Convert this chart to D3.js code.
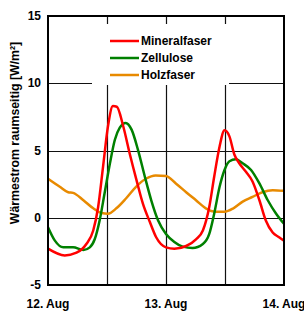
<!DOCTYPE html>
<html lang="de">
    <head>
        <meta charset="utf-8">
        <title>Wärmestrom raumseitig</title>
        <script type="text/javascript" src="https://cdn.jsdelivr.net/npm/d3@7"></script>
        <style type="text/css">
            body { margin: 0; background: #fff; }
            text { font-family: "Liberation Sans", Arial, sans-serif; font-weight: bold; }
        </style>
    </head>

    <body>
        <script type="text/javascript">
            // hours since 12. Aug 00:00
            var hMin = [0, 3.4, 5.8, 7.8, 9.2, 10.2, 11.2, 12.2, 13.2, 14, 15.3, 16.6, 18, 19.3, 20.7, 22, 24,
                        25.7, 28.1, 30.1, 31.5, 32.8, 33.8, 34.9, 35.9, 36.9, 37.9, 38.9, 40.3, 41.6, 43, 44.3, 45.7, 47, 48];
            var mineralfaser = [-2.3, -2.8, -2.6, -1.95, -0.95, 0.8, 3.8, 6.8, 8.3, 8.25, 6.8, 4.8, 2.8, 1.05, -0.3, -1.45, -2.2,
                                -2.3, -2.1, -1.6, -0.95, 0.8, 3.05, 5.3, 6.5, 6.05, 4.7, 4.05, 3.4, 2.7, 1.3, -0.2, -1.1, -1.45, -1.7];

            var hZel = [0, 1.4, 3.1, 5.1, 7.2, 8.5, 9.5, 10.5, 11.5, 12.6, 13.6, 14.6, 15.8, 17, 18.3, 19.7, 21, 22.4, 24,
                        25.7, 27.4, 29.4, 31.5, 32.8, 33.8, 34.9, 35.9, 36.9, 38.2, 39.6, 41.3, 43, 44.7, 46.4, 48];
            var zellulose = [-0.7, -1.7, -2.2, -2.2, -2.4, -2.2, -1.6, -0.2, 1.8, 4.05, 5.8, 6.7, 7.05, 6.55, 5.05, 3.05, 1.3, -0.2, -1.2,
                             -1.8, -2.15, -2.25, -1.95, -1.2, 0.3, 2.3, 3.55, 4.2, 4.35, 4.05, 3.55, 2.55, 1.3, 0.3, -0.45];

            var hHolz = [0, 2.4, 4.1, 5.1, 7.2, 9.2, 10.9, 12.2, 13.9, 15.9, 17.9, 19.9, 21.9, 24,
                         26, 28.1, 30.1, 32.1, 34.1, 35.9, 37.7, 39.6, 41.6, 43.6, 45.7, 48];
            var holzfaser = [2.9, 2.3, 1.9, 1.85, 1.3, 0.7, 0.35, 0.3, 0.7, 1.45, 2.3, 2.9, 3.15, 3.1,
                             2.55, 1.9, 1.3, 0.7, 0.45, 0.45, 0.7, 1.2, 1.55, 1.9, 2.05, 2.0];

            var seriesNames = ["Mineralfaser", "Zellulose", "Holzfaser"];
            var seriesColors = ["#ff0000", "#008000", "#e88a00"];

            var yTicks = [-5, 0, 5, 10, 15];
            var xTickHours = [0, 24, 48];
            var xTickLabels = ["12. Aug", "13. Aug", "14. Aug"];
            var gridHours = [12, 24, 36];

            var w = 304, h = 311;
            var pLeft = 48, pRight = 284, pTop = 16, pBottom = 285;

            var svg = d3.select("body").append("svg")
                        .attr("width", w)
                        .attr("height", h);

            var x = d3.scaleLinear().domain([0, 48]).range([pLeft, pRight]);
            var y = d3.scaleLinear().domain([-5, 15]).range([pBottom, pTop]);

            // grid lines (crisp, dark)
            svg.selectAll(".hgrid")
                .data([0, 5, 10])
                .enter().append("line")
                .attr("x1", pLeft).attr("x2", pRight)
                .attr("y1", function(d) { return Math.round(y(d)) + 0.5; })
                .attr("y2", function(d) { return Math.round(y(d)) + 0.5; })
                .attr("stroke", "#111").attr("stroke-width", 1.2);

            svg.selectAll(".vgrid")
                .data(gridHours)
                .enter().append("line")
                .attr("x1", function(d) { return Math.round(x(d)) + 0.5; })
                .attr("x2", function(d) { return Math.round(x(d)) + 0.5; })
                .attr("y1", pTop).attr("y2", pBottom)
                .attr("stroke", "#111").attr("stroke-width", 1.2);

            // white legend background hides the grid
            svg.append("rect")
                .attr("x", 92).attr("y", 24)
                .attr("width", 137).attr("height", 61)
                .attr("fill", "#fff");

            // curves
            var line = d3.line()
                .x(function(d) { return x(d[0]); })
                .y(function(d) { return y(d[1]); })
                .curve(d3.curveMonotoneX);

            var allSeries = [
                d3.zip(hMin, mineralfaser),
                d3.zip(hZel, zellulose),
                d3.zip(hHolz, holzfaser)
            ];

            // draw holzfaser first, mineralfaser on top
            [2, 1, 0].forEach(function(i) {
                svg.append("path")
                    .datum(allSeries[i])
                    .attr("d", line)
                    .attr("fill", "none")
                    .attr("stroke", seriesColors[i])
                    .attr("stroke-width", 2.5)
                    .attr("stroke-linejoin", "round");
            });

            // frame
            svg.append("rect")
                .attr("x", pLeft).attr("y", pTop)
                .attr("width", pRight - pLeft).attr("height", pBottom - pTop)
                .attr("fill", "none")
                .attr("stroke", "#000").attr("stroke-width", 2);

            // y tick labels
            svg.selectAll(".ylab")
                .data(yTicks)
                .enter().append("text")
                .attr("x", 41)
                .attr("y", function(d) { return y(d) + 4; })
                .attr("text-anchor", "end")
                .attr("font-size", "12px")
                .attr("fill", "#000")
                .text(function(d) { return d; });

            // x tick labels
            svg.selectAll(".xlab")
                .data(xTickHours)
                .enter().append("text")
                .attr("x", function(d) { return x(d); })
                .attr("y", 308)
                .attr("text-anchor", "middle")
                .attr("font-size", "12px")
                .attr("fill", "#000")
                .text(function(d, i) { return xTickLabels[i]; });

            // y axis title
            svg.append("text")
                .attr("transform", "translate(19,133) rotate(-90)")
                .attr("text-anchor", "middle")
                .attr("font-size", "12.3px")
                .attr("fill", "#000")
                .text("Wärmestrom raumseitig [W/m²]");

            // legend
            seriesNames.forEach(function(name, i) {
                var ly = 41 + i * 17;
                svg.append("line")
                    .attr("x1", 110).attr("x2", 139)
                    .attr("y1", ly).attr("y2", ly)
                    .attr("stroke", seriesColors[i])
                    .attr("stroke-width", 2.5);
                svg.append("text")
                    .attr("x", 141)
                    .attr("y", ly + 4)
                    .attr("font-size", "12px")
                    .attr("fill", "#000")
                    .text(name);
            });
        </script>
    </body>
</html>
